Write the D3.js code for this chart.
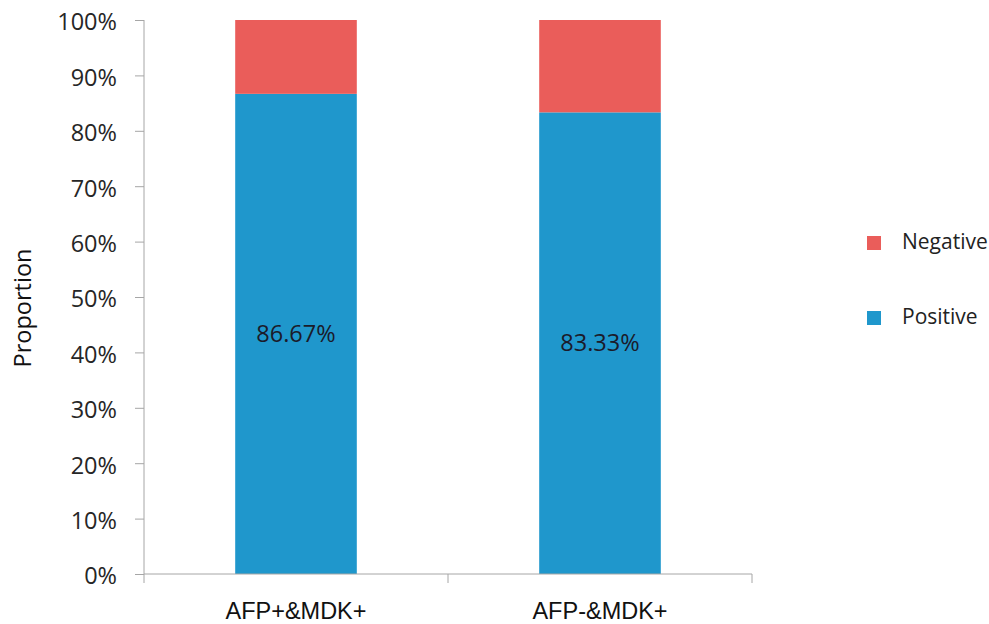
<!DOCTYPE html>
<html><head><meta charset="utf-8">
<script src="https://cdn.jsdelivr.net/npm/d3@7"></script>
<style>body{margin:0;background:#fff}svg{display:block}</style>
</head><body>
<svg id="c" width="989" height="624"></svg>
<script>
const categories = ["AFP+&MDK+", "AFP-&MDK+"];
const positive = [86.67, 83.33];
const negative = [13.33, 16.67];
const seriesNames = ["Negative", "Positive"];
const yTicks = [0,10,20,30,40,50,60,70,80,90,100];
const colors = {Positive: "#1F97CC", Negative: "#EA5D5A"};

const svg = d3.select("#c");
const x = d3.scaleBand().domain(categories).range([144, 752]).paddingInner(0.6).paddingOuter(0.3);
const y = d3.scaleLinear().domain([0, 100]).range([574, 20]);

const rows = categories.map((c,i)=>({cat:c, Positive:positive[i], Negative:negative[i]}));
const stack = d3.stack().keys(["Positive","Negative"])(rows);

svg.append("g").selectAll("g").data(stack).join("g")
  .attr("fill", d=>colors[d.key])
  .selectAll("rect").data(d=>d).join("rect")
  .attr("x", d=>x(d.data.cat)).attr("width", x.bandwidth())
  .attr("y", d=>y(d[1])).attr("height", d=>y(d[0])-y(d[1]));

// labels
svg.append("g").selectAll("text").data(rows).join("text")
  .attr("x", d=>x(d.cat)+x.bandwidth()/2)
  .attr("y", d=>(y(0)+y(d.Positive))/2)
  .attr("dy","0.35em").attr("text-anchor","middle")
  .attr("font-family","'Open Sans', sans-serif").attr("font-size",23.5)
  .attr("fill","#1b1b2a")
  .text(d=>d.Positive.toFixed(2)+"%");

// y axis
const axisColor = "#a6a6a6";
const ya = svg.append("g").attr("transform","translate(144,0)")
  .call(d3.axisLeft(y).tickValues(yTicks).tickFormat(d=>d+"%").tickSize(9).tickPadding(18));
ya.select(".domain").attr("stroke",axisColor).attr("d","M0,20V583");
ya.selectAll(".tick line").attr("stroke",axisColor);
ya.selectAll(".tick text").attr("font-family","'Open Sans', sans-serif").attr("font-size",23.5).attr("fill","#262626").attr("dy","0.42em");

// x axis
const xa = svg.append("g").attr("transform","translate(0,574)");
xa.append("line").attr("x1",144).attr("x2",752).attr("stroke",axisColor);
const bounds = [x.range()[0], (x(categories[0])+x.bandwidth()+x(categories[1]))/2, x.range()[1]];
xa.selectAll("line.t").data(bounds.slice(1)).join("line").attr("class","t")
  .attr("x1",d=>d).attr("x2",d=>d).attr("y1",0).attr("y2",9).attr("stroke",axisColor);
xa.selectAll("text").data(categories).join("text")
  .attr("x",d=>x(d)+x.bandwidth()/2).attr("y",45)
  .attr("text-anchor","middle").attr("font-family","'Liberation Sans', Arial, sans-serif")
  .attr("font-size",23.5).attr("fill","#111").text(d=>d);

// y title
svg.append("text").attr("transform","translate(31,308) rotate(-90)")
  .attr("text-anchor","middle").attr("font-family","'Open Sans', sans-serif")
  .attr("font-size",23.5).attr("fill","#111").text("Proportion");

// legend
const lg = svg.append("g").selectAll("g").data(seriesNames).join("g")
  .attr("transform",(d,i)=>`translate(867,${236+i*75})`);
lg.append("rect").attr("width",14).attr("height",14).attr("fill",d=>colors[d]);
lg.append("text").attr("x",35).attr("y",6).attr("dy","0.35em")
  .attr("font-family","'Open Sans', sans-serif").attr("font-size",21).attr("fill","#222").text(d=>d);
</script>
</body></html>
